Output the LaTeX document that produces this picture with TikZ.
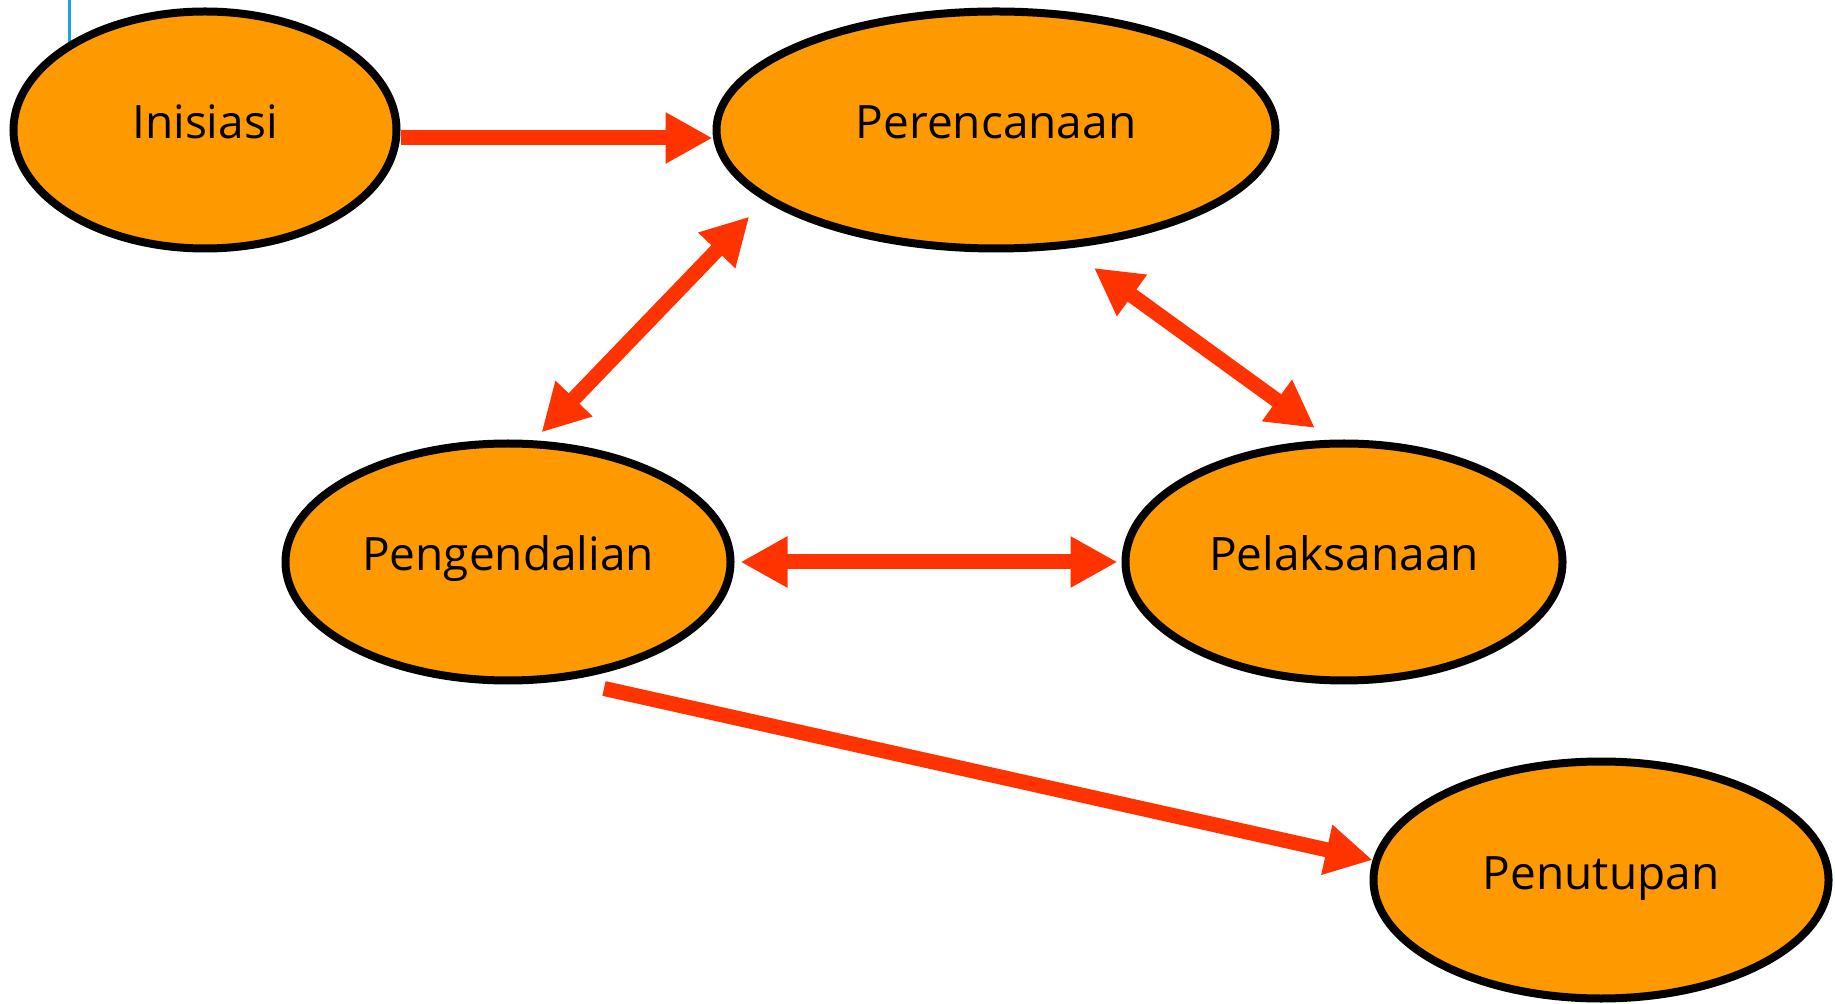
\documentclass[tikz,border=0pt]{standalone}
\usepackage{fontspec}
\setmainfont{Open Sans}
\usetikzlibrary{shapes.geometric,arrows.meta}
\definecolor{phaseorange}{RGB}{255,153,0}
\definecolor{flowred}{RGB}{255,51,0}
\definecolor{markblue}{RGB}{27,163,221}
\begin{document}
\begin{tikzpicture}[x=0.5pt,y=-0.5pt,
  phase/.style={ellipse,draw=black,line width=4pt,fill=phaseorange,
    inner sep=0pt,minimum height=118.5pt,text height=18pt,text depth=9pt,
    font=\fontsize{23}{28}\selectfont},
  flow/.style={draw=flowred,line width=7.5pt,>={Triangle[length=23.5pt,width=24pt]}}]
\useasboundingbox (0,0) rectangle (1835,1004);

% stray mark at the top left
\draw[markblue,line width=1.5pt] (69,0) -- (69,60);

% the five phases
\node[phase,minimum width=191.5pt] (ini) at (205,130) {Inisiasi};
\node[phase,minimum width=279.5pt] (per) at (996,130) {Perencanaan};
\node[phase,minimum width=222.5pt] (pgd) at (508,562) {Pengendalian};
\node[phase,minimum width=218.5pt] (pel) at (1344,562) {Pelaksanaan};
\node[phase,minimum width=227.5pt] (pen) at (1601,880) {Penutupan};

% flows between them
\draw[flow,->] ([yshift=-4pt]ini.east) -- ([yshift=-4pt]per.west);
\draw[flow,<->,shorten <=5.5pt,shorten >=11pt] (pgd.78) -- (per.197);
\draw[flow,<->,shorten <=16.5pt,shorten >=10pt] (per.301) -- (pel.96);
\draw[flow,<->,shorten <=3pt,shorten >=2pt] (pgd.east) -- (pel.west);
\draw[flow,->] ([xshift=48pt,yshift=-2pt]pgd.south) -- (pen.175);
\end{tikzpicture}
\end{document}
